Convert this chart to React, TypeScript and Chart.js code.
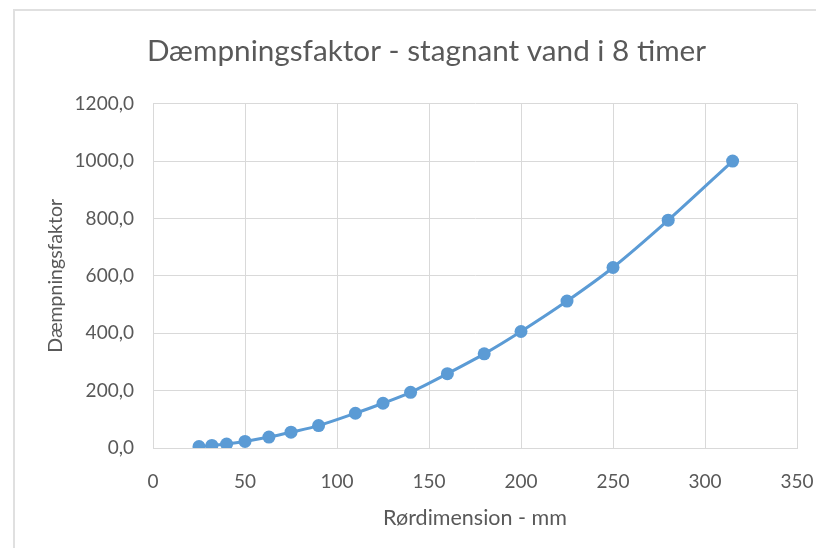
import React, { useEffect, useRef } from "react";
import { Chart, registerables } from "chart.js";

Chart.register(...registerables);

const titleText = "Dæmpningsfaktor - stagnant vand i 8 timer";
const xAxisTitle = "Rørdimension - mm";
const yAxisTitle = "Dæmpningsfaktor";

const pipeDimensions = [25, 32, 40, 50, 63, 75, 90, 110, 125, 140, 160, 180, 200, 225, 250, 280, 315];
const dampingFactors = [5, 9, 14, 23, 38, 55, 78, 121, 156, 194, 259, 328, 406, 512, 629, 794, 1000];

const xTickLabels = ["0", "50", "100", "150", "200", "250", "300", "350"];
const yTickLabels = ["0,0", "200,0", "400,0", "600,0", "800,0", "1000,0", "1200,0"];

const FONT = "Lato, 'Open Sans', sans-serif";
const TEXT = "#595959";
const GRID = "#d9d9d9";
const BLUE = "#5b9bd5";

export default function App() {
  const ref = useRef<HTMLCanvasElement | null>(null);

  useEffect(() => {
    if (!ref.current) return;
    const chart = new Chart(ref.current, {
      type: "line",
      data: {
        datasets: [
          {
            label: yAxisTitle,
            data: pipeDimensions.map((x, i) => ({ x, y: dampingFactors[i] })),
            borderColor: BLUE,
            backgroundColor: BLUE,
            borderWidth: 3,
            pointRadius: 6.5,
            pointBorderWidth: 0,
            pointBackgroundColor: BLUE,
            tension: 0.3,
            fill: false,
          },
        ],
      },
      options: {
        responsive: false,
        animation: false,
        layout: { padding: { left: 21, right: 0, top: 0, bottom: 0 } },
        plugins: {
          legend: { display: false },
          tooltip: { enabled: false },
          title: {
            display: true,
            text: titleText,
            color: TEXT,
            font: { family: FONT, size: 29.7, weight: "normal" },
            padding: { top: 26, bottom: 34 },
          },
        },
        scales: {
          x: {
            type: "linear",
            position: "bottom",
            min: 0,
            max: 350,
            afterFit: (s: any) => {
              s.height = 100;
            },
            ticks: {
              stepSize: 50,
              color: TEXT,
              padding: 0,
              font: { family: FONT, size: 19 },
              callback: (_v: any, i: number) => xTickLabels[i],
            },
            grid: {
              color: GRID,
              lineWidth: 1,
              drawTicks: true,
              tickLength: 22,
              tickColor: "rgba(0,0,0,0)",
            },
            border: { color: GRID, width: 1 },
            title: {
              display: true,
              text: xAxisTitle,
              color: TEXT,
              font: { family: FONT, size: 21.5 },
              padding: { top: 0, bottom: 17 },
            },
          },
          y: {
            type: "linear",
            position: "left",
            min: 0,
            max: 1200,
            afterFit: (s: any) => {
              s.width = 124;
            },
            ticks: {
              stepSize: 200,
              color: TEXT,
              padding: 19,
              font: { family: FONT, size: 19 },
              callback: (_v: any, i: number) => yTickLabels[i],
            },
            grid: { color: GRID, lineWidth: 1, drawTicks: false },
            border: { color: GRID, width: 1 },
            title: {
              display: true,
              text: yAxisTitle,
              color: TEXT,
              font: { family: FONT, size: 19.5 },
              padding: { top: 15, bottom: 0 },
            },
          },
          y2: {
            type: "linear",
            position: "right",
            min: 0,
            max: 1200,
            afterFit: (s: any) => {
              s.width = 27;
            },
            ticks: { display: false },
            grid: { display: false, drawTicks: false },
            border: { display: false },
          },
        },
      },
    });
    return () => chart.destroy();
  }, []);

  return (
    <div style={{ position: "relative", width: 816, height: 540, overflow: "hidden", background: "#fff" }}>
      <canvas ref={ref} width={816} height={540} style={{ display: "block" }} />
      <div
        style={{
          position: "absolute",
          left: 5,
          top: 1,
          width: 900,
          height: 900,
          borderTop: "2px solid #e0e0e0",
          borderLeft: "2px solid #e0e0e0",
          pointerEvents: "none",
        }}
      />
    </div>
  );
}
